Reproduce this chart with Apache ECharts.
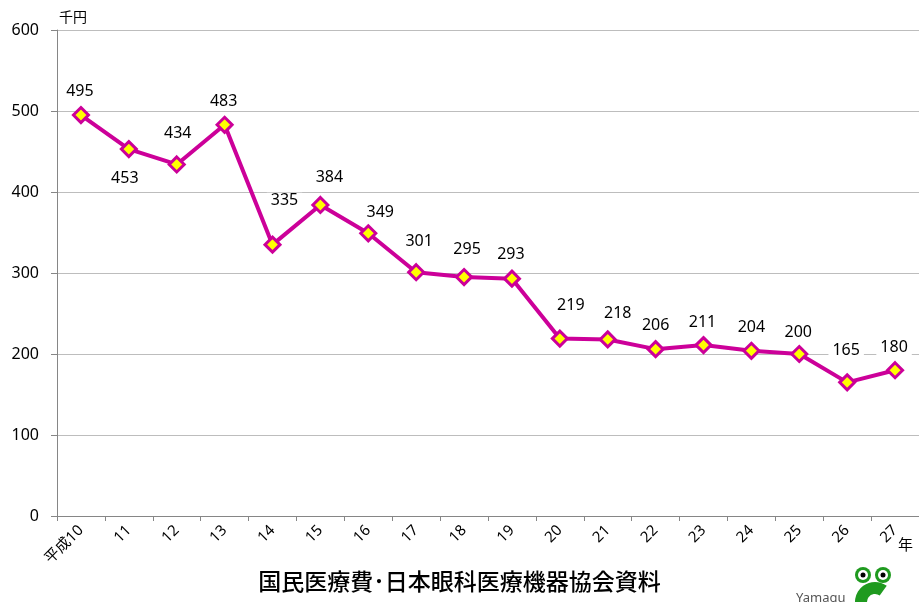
<!DOCTYPE html>
<html><head><meta charset="utf-8">
<script src="https://cdn.jsdelivr.net/npm/echarts@6/dist/echarts.min.js"></script>
<style>html,body{margin:0;padding:0;background:#fff}#c{width:919px;height:602px}</style>
</head><body><div id="c"></div>
<script>
const categories = ['平成10','11','12','13','14','15','16','17','18','19','20','21','22','23','24','25','26','27'];
const values = [495,453,434,483,335,384,349,301,295,293,219,218,206,211,204,200,165,180];
const yTicks = [0,100,200,300,400,500,600];
const labelOffsets = [[-1,-24],[-4,29],[1,-31],[-1,-23],[12,-44],[9,-28],[12,-21],[3,-31],[3,-28],[-1,-24],[11,-33],[10,-26],[0,-24],[-1,-23],[0,-23],[-1,-22],[-1,-32],[-1,-23]];
const FONT = '"Noto Sans", "Noto Sans CJK JP", sans-serif';
const CJK = '"Noto Sans CJK JP", sans-serif';
const chart = echarts.init(document.getElementById('c'), null, {renderer:'canvas'});
chart.setOption({
  animation:false,
  backgroundColor:'#fff',
  grid:{left:57,right:0,top:30,bottom:86},
  xAxis:{type:'category',data:categories,boundaryGap:true,
    axisLine:{lineStyle:{color:'#868686',width:1}},
    axisTick:{show:true,length:5,lineStyle:{color:'#868686'}},
    axisLabel:{rotate:45,fontSize:15,color:'#000',fontFamily:FONT,margin:12}},
  yAxis:{type:'value',min:yTicks[0],max:yTicks[yTicks.length-1],interval:100,
    axisLine:{show:true,lineStyle:{color:'#868686'}},
    axisTick:{show:true,length:6,lineStyle:{color:'#868686'}},
    splitLine:{lineStyle:{color:'#bdbdbd',width:1}},
    axisLabel:{fontSize:16,color:'#000',fontFamily:FONT,margin:18},
    name:'千円',nameLocation:'end',nameGap:6,
    nameTextStyle:{fontSize:14,color:'#000',fontFamily:CJK,align:'left',padding:[0,0,0,2]}},
  series:[{type:'line',data:values.map((v,i)=>({value:v,label:{offset:labelOffsets[i]}})),
    lineStyle:{color:'#CC0099',width:4},
    symbol:'diamond',symbolSize:15,
    itemStyle:{color:'#FFFF00',borderColor:'#CC0099',borderWidth:3},
    label:{show:true,position:'inside',fontSize:16,color:'#000',fontFamily:FONT,
      backgroundColor:'#fff',padding:[0,4]}}],
  graphic:[
    {type:'text',left:898,top:537,style:{text:'年',fontSize:15,fill:'#000',fontFamily:CJK}},
    {type:'text',left:'center',top:570,style:{text:'国民医療費･日本眼科医療機器協会資料',fontSize:23,fill:'#000',fontFamily:CJK,fontWeight:500},z:10},
    {type:'text',left:796,top:592,style:{text:'Yamagu',fontSize:13,fill:'#555',fontFamily:FONT}},
    {type:'sector',shape:{cx:875,cy:602,r:20,r0:8,startAngle:Math.PI*0.3,endAngle:Math.PI*1.7,clockwise:true},style:{fill:'#1f9a1f'}},
    {type:'circle',shape:{cx:863,cy:575,r:8},style:{fill:'#1f9a1f'}},
    {type:'circle',shape:{cx:883,cy:575,r:8},style:{fill:'#1f9a1f'}},
    {type:'circle',shape:{cx:863,cy:575,r:5},style:{fill:'#fff'}},
    {type:'circle',shape:{cx:883,cy:575,r:5},style:{fill:'#fff'}},
    {type:'circle',shape:{cx:863,cy:575,r:2.5},style:{fill:'#000'}},
    {type:'circle',shape:{cx:883,cy:575,r:2.5},style:{fill:'#000'}}
  ]
});
</script></body></html>
